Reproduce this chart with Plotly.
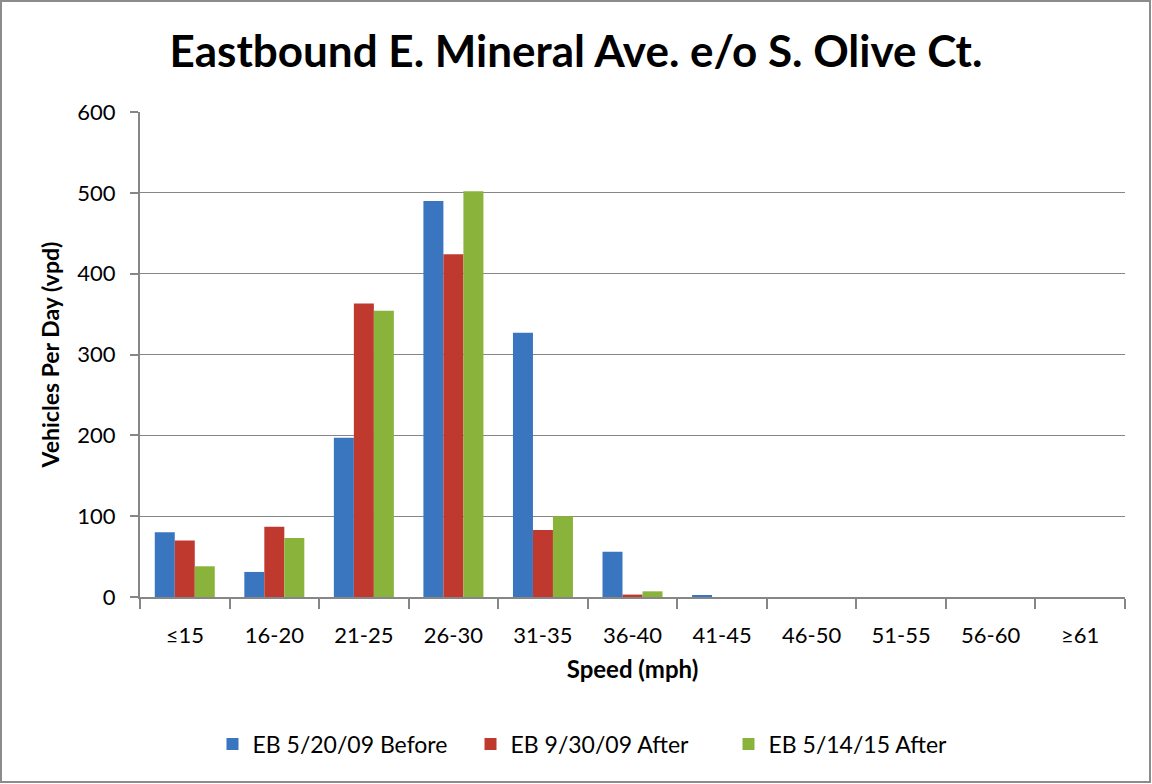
import plotly.graph_objects as go

categories = ["≤15", "16-20", "21-25", "26-30", "31-35", "36-40", "41-45", "46-50", "51-55", "56-60", "≥61"]
before_2009 = [80, 31, 197, 490, 327, 56, 2, 0, 0, 0, 0]
after_2009 = [70, 87, 363, 424, 83, 3, 0, 0, 0, 0, 0]
after_2015 = [38, 73, 354, 502, 100, 7, 0, 0, 0, 0, 0]
series_names = ["EB 5/20/09 Before", "EB 9/30/09 After", "EB 5/14/15 After"]
colors = ["#3A76C0", "#C0392F", "#8AB33C"]

FONT = "Lato"

fig = go.Figure()
for name, vals, col in zip(series_names, [before_2009, after_2009, after_2015], colors):
    fig.add_trace(go.Bar(x=categories, y=vals, name=name,
                         marker=dict(color=col, line=dict(width=0))))

fig.update_layout(
    width=1152, height=784,
    margin=dict(l=140, r=27, t=112, b=187),
    paper_bgcolor="white", plot_bgcolor="white",
    barmode="group", bargap=0.33, bargroupgap=0,
    font=dict(family=FONT, color="black", size=22),
    title=dict(text="<b>Eastbound E. Mineral Ave. e/o S. Olive Ct.</b>",
               x=0.5, xanchor="center", y=1 - 52/784, yanchor="middle",
               font=dict(size=44, family=FONT, color="black")),
    showlegend=True,
    legend=dict(orientation="h", x=0.5 - 33/985, xanchor="center", y=-(744-597)/485, yanchor="middle",
                font=dict(size=23, family=FONT), itemwidth=30, entrywidth=213,
                traceorder="normal"),
    xaxis=dict(
        type="category", showline=True, linecolor="#868686", linewidth=2,
        ticks="outside", tickson="boundaries", ticklen=10, tickcolor="#868686", tickwidth=2,
        tickfont=dict(size=22), showgrid=False, ticklabelstandoff=18,
        title=dict(text="<b>Speed (mph)</b>", font=dict(size=24), standoff=14),
    ),
    yaxis=dict(
        range=[0, 600], dtick=100, showline=True, linecolor="#868686", linewidth=2,
        ticks="outside", ticklen=8, tickcolor="#868686", tickwidth=2,
        showgrid=True, gridcolor="#868686", gridwidth=1, zeroline=False,
        tickfont=dict(size=22), ticklabelstandoff=10,
        title=dict(text="<b>Vehicles Per Day (vpd)</b>", font=dict(size=23), standoff=11),
    ),
    shapes=[dict(type="rect", xref="paper", yref="paper",
                 x0=-139/985, x1=1+25/985, y0=-185/485, y1=1+111/485,
                 line=dict(color="#8C8C8C", width=2), fillcolor="rgba(0,0,0,0)")],
)

fig.write_html("out.html", config={"displayModeBar": False},
               post_script="document.body.style.margin='0px';")
